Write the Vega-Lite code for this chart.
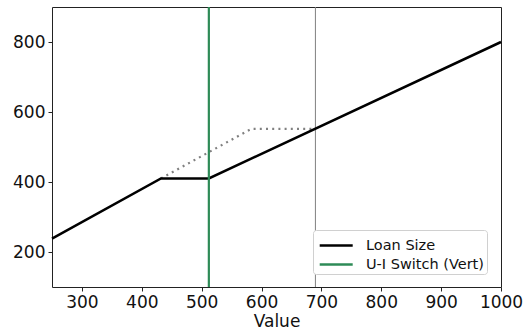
{
  "$schema": "https://vega.github.io/schema/vega-lite/v6.json",
  "width": 449,
  "height": 280,
  "autosize": {"type": "none"},
  "padding": {"left": 52, "top": 7, "right": 24, "bottom": 47},
  "background": "white",
  "config": {
    "font": "DejaVu Sans",
    "view": {"stroke": "#222", "strokeWidth": 1},
    "axis": {
      "grid": false,
      "domain": false,
      "tickColor": "#222",
      "tickSize": 4,
      "tickWidth": 1,
      "labelFont": "DejaVu Sans",
      "labelFontSize": 17,
      "labelColor": "#111",
      "labelFlush": false,
      "labelOverlap": false,
      "titleFont": "DejaVu Sans",
      "titleFontSize": 17,
      "titleFontWeight": "normal",
      "titleColor": "#111"
    }
  },
  "datasets": {
    "loan": [
      {"value": 250, "size": 238},
      {"value": 432, "size": 410},
      {"value": 512, "size": 410},
      {"value": 1000, "size": 800}
    ],
    "alt": [
      {"value": 432, "size": 410},
      {"value": 583, "size": 552},
      {"value": 690, "size": 552}
    ],
    "green": [{"value": 512}],
    "gray": [{"value": 690}]
  },
  "layer": [
    {
      "data": {"name": "gray"},
      "mark": {"type": "rule", "color": "#808080", "strokeWidth": 1},
      "encoding": {"x": {"field": "value", "type": "quantitative"}}
    },
    {
      "data": {"name": "alt"},
      "mark": {"type": "line", "color": "#808080", "strokeWidth": 2.2, "strokeDash": [2, 4.2], "strokeCap": "butt"},
      "encoding": {
        "x": {"field": "value", "type": "quantitative"},
        "y": {"field": "size", "type": "quantitative"}
      }
    },
    {
      "data": {"name": "loan"},
      "mark": {"type": "line", "strokeWidth": 2.5},
      "encoding": {
        "x": {
          "field": "value", "type": "quantitative",
          "scale": {"domain": [250, 1000], "nice": false, "zero": false},
          "axis": {"values": [300, 400, 500, 600, 700, 800, 900, 1000], "format": "d", "title": "Value", "titlePadding": 3, "labelPadding": 3}
        },
        "y": {
          "field": "size", "type": "quantitative",
          "scale": {"domain": [100, 900], "nice": false, "zero": false},
          "axis": {"values": [200, 400, 600, 800], "format": "d", "title": null, "labelPadding": 3}
        },
        "color": {
          "datum": "Loan Size",
          "scale": {"domain": ["Loan Size", "U-I Switch (Vert)"], "range": ["#000000", "#2e8b57"]},
          "legend": {
            "title": null,
            "orient": "none",
            "legendX": 261,
            "legendY": 223,
            "symbolType": "M-0.8,0H2.2",
            "symbolSize": 484,
            "symbolStrokeWidth": 2.5,
            "symbolFillColor": "transparent",
            "labelFontSize": 14.5,
            "labelFont": "DejaVu Sans",
            "labelColor": "#111",
            "strokeColor": "#d0d0d0",
            "fillColor": "white",
            "cornerRadius": 3,
            "padding": 3,
            "rowPadding": 0,
            "labelOffset": 25,
            "labelLimit": 300
          }
        }
      }
    },
    {
      "data": {"name": "green"},
      "mark": {"type": "rule", "strokeWidth": 2.2},
      "encoding": {
        "x": {"field": "value", "type": "quantitative"},
        "color": {"datum": "U-I Switch (Vert)"}
      }
    }
  ]
}
